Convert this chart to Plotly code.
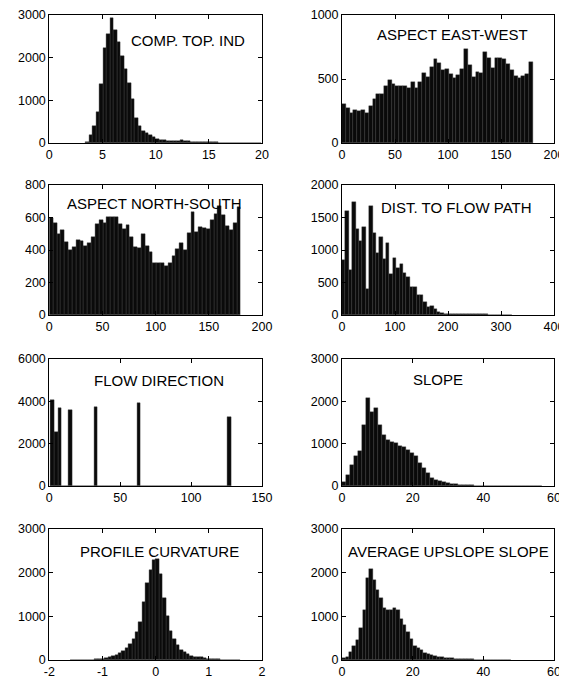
import numpy as np
import plotly.graph_objects as go
from plotly.subplots import make_subplots

# ---------------- data (50-bin histogram counts) ----------------
cti_bin_start, cti_bin_width = 3.39, 0.33
cti_counts = [20, 180, 390, 730, 1380, 2215, 2545, 2920, 2650, 2370,
              2035, 1745, 1395, 1040, 595, 390, 280, 235, 180, 140,
              85, 65, 60, 55, 55, 50, 45, 60, 45, 40,
              35, 30, 30, 28, 25, 20, 15, 12, 10, 10,
              8, 8, 6, 5, 5, 4, 3, 3, 2, 2]

aspew_bin_start, aspew_bin_width = 0.0, 3.6
aspew_counts = [308, 274, 235, 261, 251, 261, 235, 287, 347, 379,
                379, 444, 491, 460, 444, 449, 444, 426, 478, 431,
                478, 548, 512, 590, 653, 627, 574, 580, 538, 504,
                530, 582, 731, 608, 517, 556, 548, 713, 666, 587,
                668, 668, 653, 621, 569, 522, 504, 522, 538, 634]

aspns_bin_start, aspns_bin_width = 0.0, 3.6
aspns_counts = [595, 568, 498, 523, 451, 400, 420, 461, 457, 425,
                445, 482, 560, 584, 568, 601, 601, 601, 560, 527,
                554, 482, 420, 414, 498, 425, 390, 320, 322, 322,
                301, 322, 363, 404, 441, 400, 507, 636, 513, 539,
                535, 530, 584, 620, 671, 615, 550, 525, 565, 665]

dist_bin_start, dist_bin_width = 0.0, 6.4
dist_counts = [850, 1605, 700, 1735, 1320, 1145, 1350, 395, 1680, 1265,
               950, 1195, 855, 1110, 630, 880, 720, 785, 650, 580,
               430, 425, 310, 305, 205, 120, 145, 90, 50, 28,
               20, 18, 18, 15, 15, 12, 12, 10, 10, 10,
               8, 8, 8, 6, 6, 5, 4, 3, 2, 1]

flow_bin_start, flow_bin_width = 1.0, 2.54
flow_counts = [4060, 2550, 3690, 0, 0, 3600, 0, 0, 0, 0,
               0, 0, 3730, 0, 0, 0, 0, 0, 0, 0,
               0, 0, 0, 0, 3920, 0, 0, 0, 0, 0,
               0, 0, 0, 0, 0, 0, 0, 0, 0, 0,
               0, 0, 0, 0, 0, 0, 0, 0, 0, 3260]

slope_bin_start, slope_bin_width = 0.0, 1.13
slope_counts = [100, 250, 500, 720, 820, 1430, 2090, 1750, 1850, 1450,
                1200, 1080, 1040, 1010, 940, 930, 850, 780, 700, 540,
                420, 300, 200, 140, 115, 100, 70, 50, 40, 30,
                25, 20, 15, 10, 8, 6, 5, 4, 3, 3,
                2, 2, 2, 1, 1, 1, 1, 1, 1, 1]

curv_bin_start, curv_bin_width = -1.6, 0.064
curv_counts = [0, 0, 1, 2, 3, 5, 8, 12, 18, 28,
               45, 65, 85, 110, 150, 215, 280, 360, 470, 640,
               880, 1330, 1760, 2060, 2290, 2320, 1960, 1420, 1000, 660,
               490, 340, 240, 185, 140, 100, 80, 68, 58, 45,
               30, 22, 16, 12, 8, 5, 3, 2, 1, 0]

upsl_bin_start, upsl_bin_width = 0.1, 0.955
upsl_counts = [40, 80, 180, 320, 460, 740, 1140, 1870, 2080, 1840,
               1600, 1410, 1200, 1150, 1155, 1200, 1140, 950, 800, 645,
               470, 315, 283, 222, 160, 130, 107, 84, 69, 61,
               50, 50, 45, 30, 25, 20, 18, 15, 12, 10,
               8, 6, 5, 4, 3, 2, 2, 1, 1, 1]

titles = ["COMP. TOP. IND", "ASPECT EAST-WEST", "ASPECT NORTH-SOUTH",
          "DIST. TO FLOW PATH", "FLOW DIRECTION", "SLOPE",
          "PROFILE CURVATURE", "AVERAGE UPSLOPE SLOPE"]

x_ticks = [[0, 5, 10, 15, 20], [0, 50, 100, 150, 200], [0, 50, 100, 150, 200],
           [0, 100, 200, 300, 400], [0, 50, 100, 150], [0, 20, 40, 60],
           [-2, -1, 0, 1, 2], [0, 20, 40, 60]]
y_ticks = [[0, 1000, 2000, 3000], [0, 500, 1000], [0, 200, 400, 600, 800],
           [0, 500, 1000, 1500, 2000], [0, 2000, 4000, 6000], [0, 1000, 2000, 3000],
           [0, 1000, 2000, 3000], [0, 1000, 2000, 3000]]

panels = [
    (cti_bin_start, cti_bin_width, cti_counts),
    (aspew_bin_start, aspew_bin_width, aspew_counts),
    (aspns_bin_start, aspns_bin_width, aspns_counts),
    (dist_bin_start, dist_bin_width, dist_counts),
    (flow_bin_start, flow_bin_width, flow_counts),
    (slope_bin_start, slope_bin_width, slope_counts),
    (curv_bin_start, curv_bin_width, curv_counts),
    (upsl_bin_start, upsl_bin_width, upsl_counts),
]

# ---------------- layout (style) ----------------
W, H = 567, 680
OFF = 8  # page body margin: figure origin sits at (8, 8) of the window
x_px = [(49.3, 262), (342, 554)]
rows_px = [(15, 143), (185, 315), (359, 486), (529, 660)]
x_dom = [[(a - OFF) / W, (b - OFF) / W] for a, b in x_px]
y_dom = [[1 - (b - OFF) / H, 1 - (t - OFF) / H] for t, b in rows_px]
title_pos = [(0.652, 0.797), (0.519, 0.849), (0.491, 0.855), (0.539, 0.829),
             (0.515, 0.831), (0.451, 0.84), (0.519, 0.83), (0.501, 0.83)]

FONT = "Liberation Sans, Arial, Helvetica, sans-serif"

fig = make_subplots(rows=4, cols=2)

for i, (start, width, counts) in enumerate(panels):
    r, c = i // 2 + 1, i % 2 + 1
    counts = np.asarray(counts, dtype=float)
    centers = start + width * (np.arange(len(counts)) + 0.5)
    fig.add_trace(go.Bar(x=centers, y=counts, width=width,
                         marker=dict(color="#0a0a0a",
                                     line=dict(color="#3a3a3a", width=0.4)),
                         showlegend=False, hoverinfo="x+y"),
                  row=r, col=c)
    n = "" if i == 0 else str(i + 1)
    xt, yt = x_ticks[i], y_ticks[i]
    fig.layout["xaxis" + n].update(
        domain=x_dom[c - 1], range=[xt[0], xt[-1]], automargin=False,
        tickvals=xt, ticktext=[str(v) for v in xt],
        showline=True, linecolor="black", linewidth=1, mirror="ticks",
        ticks="inside", ticklen=4, tickcolor="black", showgrid=False,
        zeroline=False, tickfont=dict(family=FONT, size=12.5, color="black"))
    fig.layout["yaxis" + n].update(
        domain=y_dom[r - 1], range=[yt[0], yt[-1]], automargin=False,
        tickvals=yt, ticktext=[str(v) for v in yt],
        showline=True, linecolor="black", linewidth=1, mirror="ticks",
        ticks="inside", ticklen=4, tickcolor="black", showgrid=False,
        zeroline=False, tickfont=dict(family=FONT, size=12.5, color="black"))
    tx, ty = title_pos[i]
    fig.add_annotation(text=titles[i], xref=f"x{n} domain", yref=f"y{n} domain",
                       x=tx, y=ty, xanchor="center", yanchor="middle",
                       showarrow=False,
                       font=dict(family=FONT, size=15, color="black"))

fig.update_layout(width=W, height=H, margin=dict(l=0, r=0, t=0, b=0),
                  paper_bgcolor="white", plot_bgcolor="white", bargap=0)

fig.write_html("out.html")
